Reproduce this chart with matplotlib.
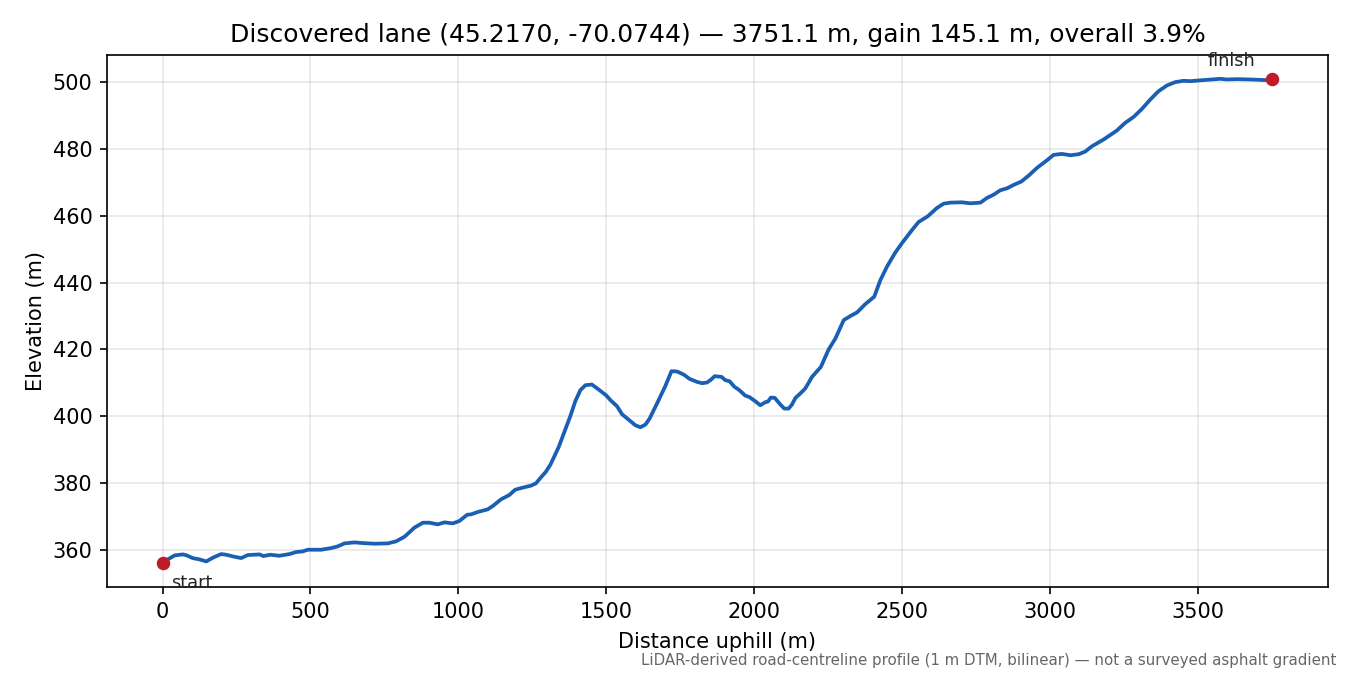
import matplotlib
matplotlib.use("Agg")
import matplotlib.pyplot as plt

# values
distance = [0, 18, 41, 69, 82, 102, 125, 148, 170, 198, 215, 243, 266, 288, 328, 341, 364, 395, 429, 451,
            474, 491, 536, 570, 592, 615, 649, 677, 716, 761, 789, 818, 851, 880, 902, 930, 953, 981, 1003, 1030,
            1043, 1065, 1099, 1116, 1144, 1172, 1192, 1217, 1245, 1262, 1277, 1295, 1311, 1339, 1361, 1378, 1395, 1412, 1429, 1451,
            1474, 1500, 1514, 1536, 1553, 1575, 1598, 1615, 1632, 1646, 1671, 1699, 1720, 1739, 1761, 1781, 1806, 1823, 1840, 1854,
            1866, 1889, 1902, 1916, 1933, 1947, 1969, 1984, 2003, 2020, 2037, 2046, 2056, 2069, 2086, 2101, 2116, 2127, 2139, 2155,
            2172, 2195, 2225, 2251, 2274, 2302, 2324, 2347, 2375, 2405, 2426, 2448, 2476, 2500, 2533, 2555, 2586, 2617, 2640, 2662,
            2701, 2730, 2764, 2786, 2809, 2831, 2854, 2876, 2902, 2927, 2955, 2989, 3011, 3039, 3068, 3096, 3118, 3141, 3180, 3225,
            3253, 3282, 3310, 3338, 3366, 3394, 3422, 3450, 3473, 3518, 3574, 3597, 3631, 3676, 3732, 3751]
elevation = [356.0, 357.1, 358.3, 358.6, 358.3, 357.5, 357.1, 356.5, 357.6, 358.7, 358.5, 357.9, 357.5, 358.4, 358.6, 358.1, 358.5, 358.2, 358.7, 359.3,
             359.5, 360.0, 360.0, 360.5, 361.0, 361.9, 362.2, 362.0, 361.8, 361.9, 362.5, 363.9, 366.6, 368.1, 368.1, 367.6, 368.2, 367.9, 368.6, 370.5,
             370.6, 371.3, 372.1, 373.1, 375.1, 376.4, 378.0, 378.6, 379.2, 379.9, 381.5, 383.3, 385.5, 390.8, 396.0, 400.0, 404.5, 407.8, 409.3, 409.5,
             408.0, 406.2, 404.8, 403.0, 400.6, 399.0, 397.3, 396.7, 397.5, 399.3, 403.8, 409.0, 413.5, 413.4, 412.5, 411.2, 410.3, 409.9, 410.1, 411.0,
             412.0, 411.8, 410.8, 410.5, 408.8, 408.0, 406.2, 405.7, 404.5, 403.3, 404.2, 404.4, 405.6, 405.5, 403.7, 402.3, 402.3, 403.5, 405.5, 406.8,
             408.3, 411.8, 414.8, 420.0, 423.3, 428.8, 430.0, 431.1, 433.6, 435.8, 440.8, 444.8, 449.0, 452.0, 455.8, 458.2, 459.9, 462.4, 463.7, 464.0,
             464.1, 463.8, 464.0, 465.4, 466.4, 467.7, 468.3, 469.3, 470.3, 472.1, 474.4, 476.7, 478.3, 478.6, 478.2, 478.5, 479.3, 480.9, 482.9, 485.6,
             487.9, 489.7, 492.1, 494.9, 497.4, 499.1, 500.1, 500.5, 500.4, 500.7, 501.1, 500.9, 501.0, 500.9, 500.7, 501.1]

title = "Discovered lane (45.2170, -70.0744) \u2014 3751.1 m, gain 145.1 m, overall 3.9%"
note = "LiDAR-derived road-centreline profile (1 m DTM, bilinear) \u2014 not a surveyed asphalt gradient"

fig, ax = plt.subplots(figsize=(9, 4.5), dpi=150)
ax.plot(distance, elevation, color="#1a5fb4", linewidth=1.8)
ax.scatter([distance[0], distance[-1]], [elevation[0], elevation[-1]], color="#c01c28", s=30, zorder=5)
ax.annotate("start", (distance[0], elevation[0]), xytext=(4, -12), textcoords="offset points", fontsize=8.5, color="#222222")
ax.annotate("finish", (distance[-1], elevation[-1]), xytext=(-8, 6), textcoords="offset points", fontsize=8.5, ha="right", color="#222222")

ax.set_xlabel("Distance uphill (m)", labelpad=4.8)
ax.set_ylabel("Elevation (m)", labelpad=3.2)
ax.set_title(title, fontsize=12)
ax.grid(alpha=0.3)

fig.subplots_adjust(left=107 / 1350, right=1328 / 1350, top=1 - 54.6 / 675, bottom=1 - 587.3 / 675)
fig.text(1336 / 1350, 1 - 660 / 675, note, fontsize=7.2, color="#666666", ha="right", va="center")
fig.savefig("out.png", dpi=150)
